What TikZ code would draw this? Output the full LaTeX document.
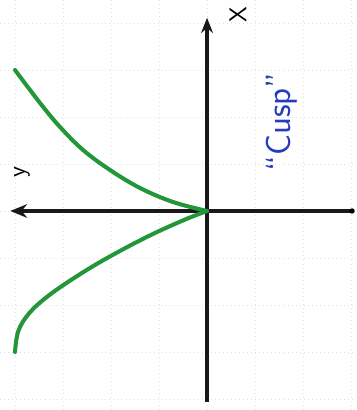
\documentclass[tikz,border=0pt]{standalone}
\usetikzlibrary{arrows.meta}
\definecolor{curvegreen}{RGB}{34,150,56}
\definecolor{penblue}{RGB}{38,60,190}
\tikzset{
  axis/.style={line width=1.9pt, black!90},
  cusp/.style={line width=2.4pt, curvegreen, line cap=round},
  gridline/.style={gray!25, dotted, line width=0.4pt},
}
\begin{document}
\begin{tikzpicture}[x=1cm, y=0.979cm, font=\sffamily]
    \useasboundingbox (-4.3125,-4.234) rectangle (3.104,4.489);
    % faint graph paper
    \foreach \u in {-4,...,3} \draw[gridline] (\u,-4.234) -- (\u,4.489);
    \foreach \v in {-4,...,4} \draw[gridline] (-4.3125,\v) -- (3.104,\v);

    % axes
    \coordinate (O) at (0,0);
    \coordinate (xtop) at (0,4.11);
    \coordinate (xbot) at (0,-4.06);
    \coordinate (yleft) at (-4.10,0);
    \coordinate (yright) at (3.02,0);
    \draw[axis, -{Stealth[length=9pt, width=7pt]}] (xbot) -- (xtop);
    \draw[axis, -{Stealth[length=10pt, width=8pt]}] (yright) -- (yleft);
    \fill (yright) circle (1.6pt);
    \node[rotate=90, font=\sffamily\Large] (xlab) at (0.646,4.17) {X};
    \node[rotate=90, font=\sffamily\Large] (ylab) at (-3.854,0.83) {y};

    % the cusp
    \draw[cusp] plot[smooth, tension=0.6] coordinates {(-4,3) (-3.479,2.298) (-3.0625,1.787) (-2.583,1.298) (-2.021,0.872) (-1.396,0.489) (-0.708,0.191) (0,0)};
    \draw[cusp] plot[smooth, tension=0.6] coordinates {(-4,-3) (-3.93,-2.55) (-3.70,-2.17) (-3.30,-1.80) (-2.70,-1.38) (-2.08,-1.0) (-1.25,-0.55) (-0.5,-0.2) (0,0)};

    \node[rotate=90, text=penblue, font=\sffamily\huge] (name) at (1.5625,1.894) {``Cusp''};
\end{tikzpicture}
\end{document}
